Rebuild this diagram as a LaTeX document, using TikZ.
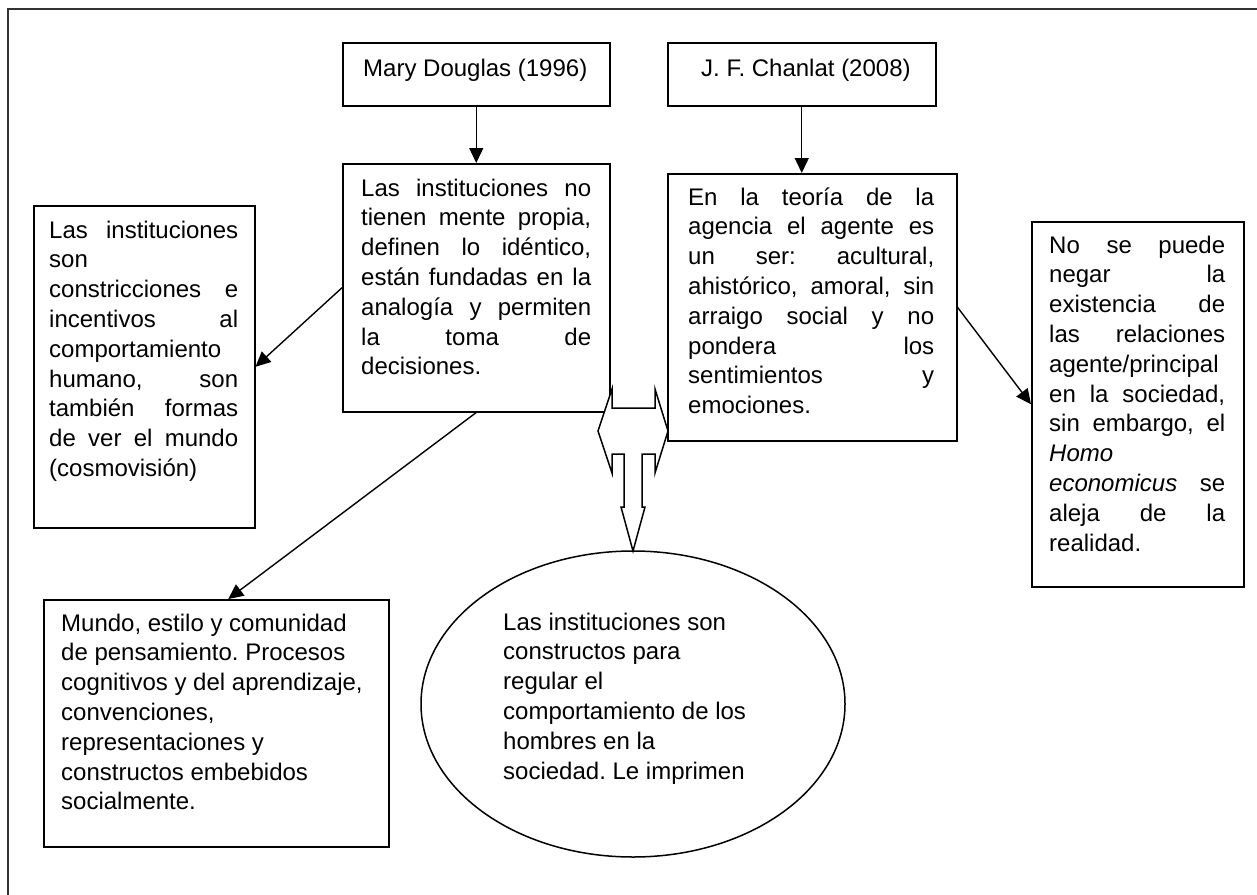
\documentclass[tikz,border=0pt]{standalone}
\usepackage{fontspec}
\setmainfont{Liberation Sans}
\usetikzlibrary{arrows.meta,shapes.geometric}
\tolerance=10000
\hbadness=10000
\hyphenpenalty=10000
\exhyphenpenalty=10000
\frenchspacing
\begin{document}
\begin{tikzpicture}[x=1pt,y=-1pt,
  outline/.style={line width=2.6pt, draw=black!80},
  panel/.style={draw, line width=1.5pt, inner sep=0pt, anchor=north west},
  words/.style={inner sep=0pt, anchor=base west, font=\fontsize{24}{29.8}\selectfont\frenchspacing},
  link/.style={line width=1.4pt, -{Triangle[length=15pt,width=14pt]}},
  blockarrow/.style={draw, fill=white, line width=1.5pt, line join=miter},
  ]
\useasboundingbox (0,0) rectangle (1257,894);

% page frame (open to the right and bottom)
\draw[outline] (8,900) -- (8,9) -- (1265,9);

% authors
\node[panel, minimum width=267pt, minimum height=63pt] (md) at (342,42) {};
\node[words] (mdtext) at (363,76) {Mary Douglas (1996)};
\node[panel, minimum width=268pt, minimum height=63pt] (ch) at (667,42) {};
\node[words] (chtext) at (701,76) {J. F. Chanlat (2008)};

% central statements
\node[panel, minimum width=267pt, minimum height=248pt] (inst) at (342,163) {};
\node[words] (insttext) at (361,196) {\parbox[t]{230pt}{Las instituciones no\linebreak
 tienen mente propia,\linebreak definen lo idéntico,\linebreak están fundadas en la\linebreak
 analogía y permiten\linebreak la toma de\linebreak decisiones.}};

\node[panel, minimum width=289pt, minimum height=267pt] (agen) at (667,173) {};
\node[words] (agentext) at (688,205) {\parbox[t]{246pt}{En la teoría de la\linebreak
 agencia el agente es\linebreak un ser: acultural,\linebreak ahistórico, amoral, sin\linebreak
 arraigo social y no\linebreak pondera los\linebreak sentimientos y\linebreak emociones.}};

% side boxes
\node[panel, minimum width=221pt, minimum height=322pt] (lbox) at (33,205) {};
\node[words] (lboxtext) at (49,238) {\parbox[t]{189pt}{Las instituciones\linebreak
 son\linebreak constricciones e\linebreak incentivos al\linebreak comportamiento\linebreak
 humano, son\linebreak también formas\linebreak de ver el mundo\linebreak (cosmovisión)}};

\node[panel, minimum width=212pt, minimum height=365pt] (rbox) at (1031,221) {};
\node[words] (rboxtext) at (1049,253) {\parbox[t]{176pt}{No se puede\linebreak
 negar la\linebreak existencia de\linebreak las relaciones\linebreak agente/principal\linebreak
 en la sociedad,\linebreak sin embargo, el\linebreak \textit{Homo}\linebreak
 \textit{economicus} se\linebreak aleja de la\linebreak realidad.}};

\node[panel, minimum width=345pt, minimum height=247pt] (low) at (43,599) {};
\node[words] (lowtext) at (61,631) {\parbox[t]{310pt}{\raggedright Mundo, estilo y comunidad\\
 de pensamiento. Procesos\\ cognitivos y del aprendizaje,\\ convenciones,\\
 representaciones y\\ constructos embebidos\\ socialmente.}};

% ellipse
\node[draw, ellipse, line width=1.5pt, inner sep=0pt, minimum width=424pt,
      minimum height=306pt] (ell) at (633,704) {};
\node[words] (elltext) at (503,630) {\parbox[t]{270pt}{\raggedright Las instituciones son\\
 constructos para\\ regular el\\ comportamiento de los\\ hombres en la\\ sociedad. Le imprimen}};

% connectors
\draw[link] (md) -- (inst);
\draw[link] (ch.south) -- (ch.south |- agen.north);
\draw[link] (inst.west) -- (lbox.east);
\draw[link] (inst.south) -- ([xshift=12pt]low.north);
\draw[link] (agen.east) -- (rbox.west);

% left-right-down block arrow
\coordinate (hub) at (633,431);
\begin{scope}[shift={(hub)}]
\draw[blockarrow] (-35,0) -- (-21,-42) -- (-21,-23) -- (22,-23) -- (22,-42) -- (35,0)
  -- (22,42) -- (22,23) -- (9,23) -- (9,76) -- (12,76) -- (0,120) -- (-12,76)
  -- (-9,76) -- (-9,23) -- (-21,23) -- (-21,42) -- cycle;
\end{scope}
\end{tikzpicture}
\end{document}
